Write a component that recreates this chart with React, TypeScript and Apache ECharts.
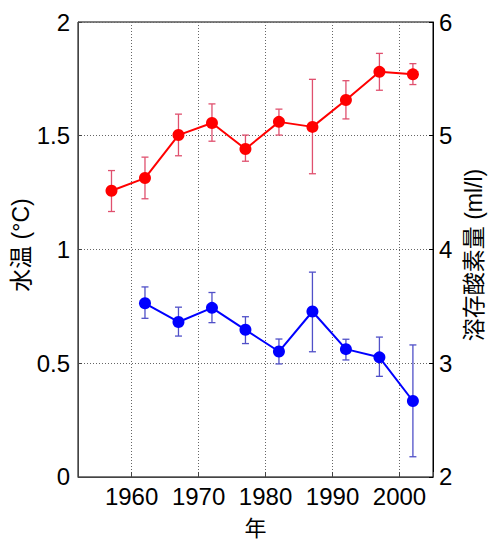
import React, { useEffect, useRef } from "react";
import * as echarts from "echarts";

const years = [1957, 1962, 1967, 1972, 1977, 1982, 1987, 1992, 1997, 2002];
const tempMean = [1.258, 1.314, 1.503, 1.556, 1.442, 1.561, 1.539, 1.657, 1.781, 1.77];
const tempUpper = [1.347, 1.406, 1.595, 1.64, 1.503, 1.617, 1.748, 1.742, 1.862, 1.817];
const tempLower = [1.167, 1.223, 1.412, 1.476, 1.388, 1.503, 1.333, 1.574, 1.7, 1.725];

const doYears = [1962, 1967, 1972, 1977, 1982, 1987, 1992, 1997, 2002];
const doMean = [3.527, 3.363, 3.487, 3.294, 3.103, 3.455, 3.124, 3.052, 2.668];
const doUpper = [3.671, 3.493, 3.622, 3.409, 3.213, 3.801, 3.211, 3.23, 3.161];
const doLower = [3.395, 3.239, 3.357, 3.173, 2.994, 3.101, 3.029, 2.885, 2.178];

const xLabelYears = [1960, 1970, 1980, 1990, 2000];
const tempTicks = [0, 0.5, 1, 1.5, 2];
const doTicks = [2, 3, 4, 5, 6];

const FONT = "'Liberation Sans', Arial, 'Noto Sans CJK JP', sans-serif";

function errorBarRender(color: string) {
  return (params: any, api: any) => {
    const x = api.value(0);
    const lo = api.coord([x, api.value(1)]);
    const hi = api.coord([x, api.value(2)]);
    const w = 3.5;
    const style = { stroke: color, lineWidth: 1.3 };
    return {
      type: "group",
      children: [
        { type: "line", shape: { x1: lo[0], y1: lo[1], x2: hi[0], y2: hi[1] }, style },
        { type: "line", shape: { x1: lo[0] - w, y1: lo[1], x2: lo[0] + w, y2: lo[1] }, style },
        { type: "line", shape: { x1: hi[0] - w, y1: hi[1], x2: hi[0] + w, y2: hi[1] }, style },
      ],
    };
  };
}

export default function App() {
  const ref = useRef<HTMLDivElement>(null);
  useEffect(() => {
    if (!ref.current) return;
    const chart = echarts.init(ref.current, undefined, { renderer: "svg" });
    const labelStyle = { color: "#000", fontSize: 24, fontFamily: FONT };
    chart.setOption({
      animation: false,
      backgroundColor: "#fff",
      textStyle: { fontFamily: FONT },
      grid: {
        left: 78,
        right: 55,
        top: 22,
        bottom: 60,
        show: true,
        borderColor: "#000",
        borderWidth: 1,
        containLabel: false,
      },
      xAxis: {
        type: "value",
        min: 1952,
        max: 2005,
        splitNumber: 5,
        name: "年",
        nameLocation: "middle",
        nameGap: 40,
        nameTextStyle: { color: "#000", fontSize: 22, fontFamily: FONT },
        axisLine: { show: true, lineStyle: { color: "#444", width: 1 } },
        axisTick: { show: true, inside: true, length: 5, lineStyle: { color: "#444" } },
        axisLabel: {
          ...labelStyle,
          margin: 8,
          formatter: (v: number) => (xLabelYears.includes(v) ? String(v) : ""),
        },
        splitLine: { show: true, lineStyle: { color: "#666", type: [1, 2], width: 1 } },
      },
      yAxis: [
        {
          type: "value",
          min: tempTicks[0],
          max: tempTicks[tempTicks.length - 1],
          interval: 0.5,
          position: "left",
          axisLine: { show: true, lineStyle: { color: "#444", width: 1 } },
          axisTick: { show: true, inside: true, length: 4, lineStyle: { color: "#444" } },
          axisLabel: { ...labelStyle, margin: 8 },
          splitLine: { show: true, lineStyle: { color: "#666", type: [1, 2], width: 1 } },
        },
        {
          type: "value",
          min: doTicks[0],
          max: doTicks[doTicks.length - 1],
          interval: 1,
          position: "right",
          axisLine: { show: true, lineStyle: { color: "#000", width: 1 } },
          axisTick: { show: true, inside: true, length: 4, lineStyle: { color: "#000" } },
          axisLabel: { ...labelStyle, margin: 6 },
          splitLine: { show: false },
        },
      ],
      graphic: [
        {
          type: "text",
          x: 21,
          y: 245,
          rotation: Math.PI / 2,
          style: {
            text: "水温 (°C)",
            fill: "#000",
            fontSize: 23,
            fontFamily: FONT,
            textAlign: "center",
            textVerticalAlign: "middle",
          },
        },
        {
          type: "text",
          x: 474,
          y: 255,
          rotation: Math.PI / 2,
          style: {
            text: "溶存酸素量 (ml/l)",
            fill: "#000",
            fontSize: 23,
            fontFamily: FONT,
            textAlign: "center",
            textVerticalAlign: "middle",
          },
        },
      ],
      series: [
        {
          type: "custom",
          name: "水温誤差",
          xAxisIndex: 0,
          yAxisIndex: 0,
          renderItem: errorBarRender("#e0506e"),
          data: years.map((y, i) => [y, tempLower[i], tempUpper[i]]),
          encode: { x: 0, y: [1, 2] },
          z: 1,
        },
        {
          type: "line",
          name: "水温",
          xAxisIndex: 0,
          yAxisIndex: 0,
          data: years.map((y, i) => [y, tempMean[i]]),
          symbol: "circle",
          symbolSize: 12,
          lineStyle: { color: "#ff0000", width: 2 },
          itemStyle: { color: "#ff0000" },
          z: 2,
        },
        {
          type: "custom",
          name: "溶存酸素量誤差",
          xAxisIndex: 0,
          yAxisIndex: 1,
          renderItem: errorBarRender("#5050c8"),
          data: doYears.map((y, i) => [y, doLower[i], doUpper[i]]),
          encode: { x: 0, y: [1, 2] },
          z: 1,
        },
        {
          type: "line",
          name: "溶存酸素量",
          xAxisIndex: 0,
          yAxisIndex: 1,
          data: doYears.map((y, i) => [y, doMean[i]]),
          symbol: "circle",
          symbolSize: 12,
          lineStyle: { color: "#0000ff", width: 2 },
          itemStyle: { color: "#0000ff" },
          z: 2,
        },
      ],
    });
    return () => chart.dispose();
  }, []);
  return <div ref={ref} style={{ width: 488, height: 544, position: "absolute", left: 0, top: 0 }} />;
}
